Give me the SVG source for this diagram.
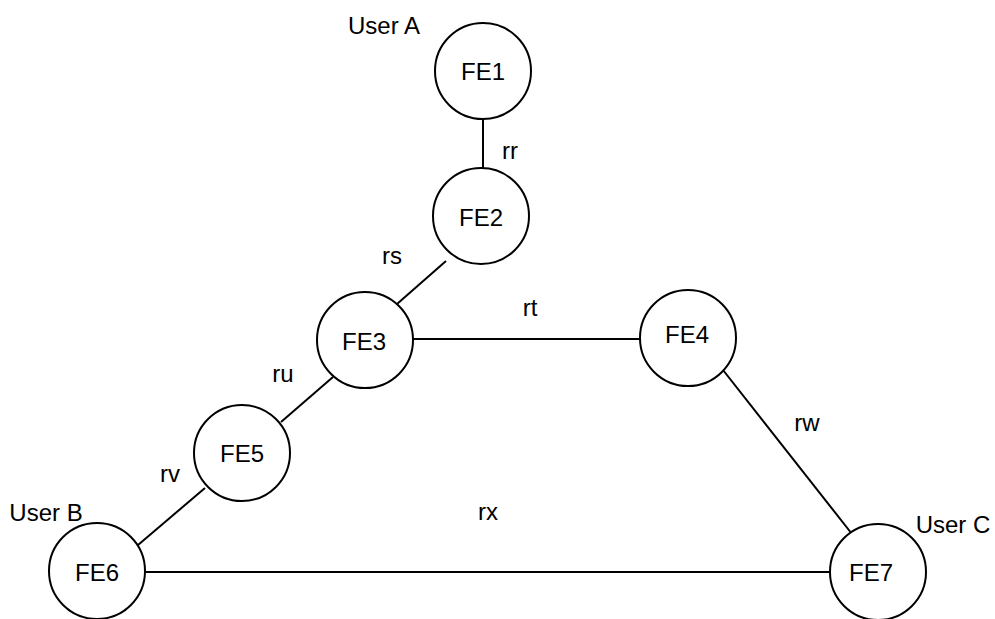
<svg xmlns="http://www.w3.org/2000/svg" width="995" height="619" viewBox="0 0 995 619">
<style>
.n{fill:#fff;stroke:#000;stroke-width:2}
.e{stroke:#000;stroke-width:2;fill:none}
text{font-family:"Liberation Sans",Arial,sans-serif;font-size:24px;fill:#000;text-anchor:middle;dominant-baseline:central}
</style>
<rect width="995" height="619" fill="#fff"/>
<g id="connectors">
<line class="e" x1="483" y1="119" x2="483" y2="173"/>
<line class="e" x1="446" y1="261" x2="397" y2="304"/>
<line class="e" x1="413" y1="339" x2="640" y2="339"/>
<line class="e" x1="333" y1="377" x2="281" y2="422"/>
<line class="e" x1="205" y1="488" x2="138" y2="545"/>
<line class="e" x1="723" y1="370" x2="852" y2="534"/>
<line class="e" x1="146" y1="572" x2="830" y2="572"/>
<text x="510" y="150">rr</text>
<text x="392" y="255">rs</text>
<text x="530" y="307">rt</text>
<text x="283" y="373">ru</text>
<text x="170" y="473">rv</text>
<text x="807" y="422">rw</text>
<text x="488" y="511">rx</text>
</g>
<g id="FE1"><circle class="n" cx="483" cy="71" r="48"/><text x="483" y="71">FE1</text><text x="384" y="25">User A</text></g>
<g id="FE2"><circle class="n" cx="481" cy="216" r="48"/><text x="481" y="217">FE2</text></g>
<g id="FE3"><circle class="n" cx="365" cy="340" r="48"/><text x="364" y="341">FE3</text></g>
<g id="FE4"><circle class="n" cx="688" cy="338" r="48"/><text x="687" y="334">FE4</text></g>
<g id="FE5"><circle class="n" cx="242" cy="453" r="48"/><text x="242" y="453">FE5</text></g>
<g id="FE6"><circle class="n" cx="97" cy="571" r="48"/><text x="97" y="572">FE6</text><text x="46" y="512">User B</text></g>
<g id="FE7"><circle class="n" cx="878" cy="572" r="48"/><text x="871" y="572">FE7</text><text x="953" y="524">User C</text></g>
</svg>
